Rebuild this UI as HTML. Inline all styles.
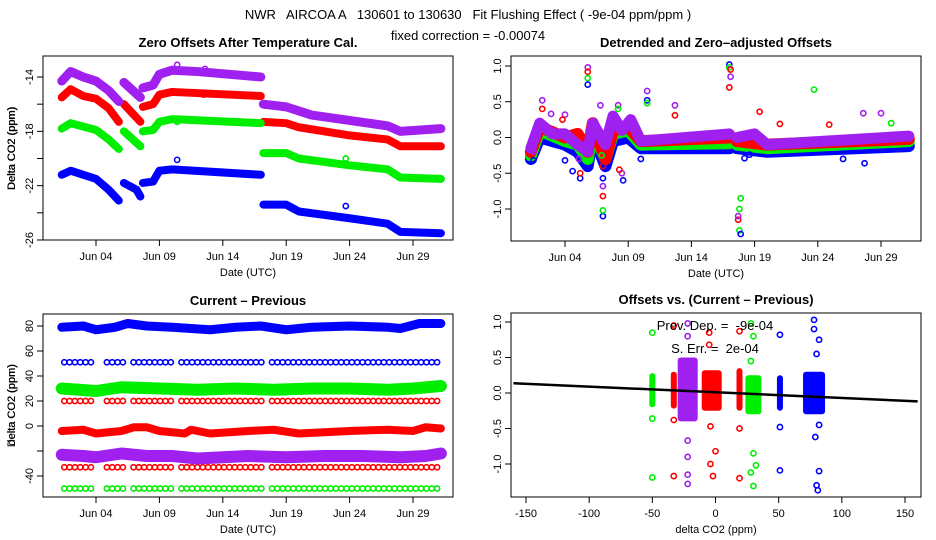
<!DOCTYPE html>
<html><head><meta charset="utf-8"><style>
body{margin:0;background:#fff}
svg{display:block;font-family:"Liberation Sans",sans-serif}
text{white-space:pre}
</style></head><body>
<svg id="c" width="936" height="540" viewBox="0 0 936 540">
<text x="468" y="19" text-anchor="middle" font-size="13" xml:space="preserve">NWR   AIRCOA A   130601 to 130630   Fit Flushing Effect ( -9e-04 ppm/ppm )</text>
<text x="468" y="40" text-anchor="middle" font-size="13">fixed correction = -0.00074</text>
</svg>
<script>
// ---------- data ----------
const colors = ["#a020f0","#ff0000","#00ee00","#0000ff"];
const dateTicks = [4,9,14,19,24,29];
const dateTickLabels = ["Jun 04","Jun 09","Jun 14","Jun 19","Jun 24","Jun 29"];
// Panel 1: zero offsets, segments of [day,value]
const p1Purple = [[[1.3,-14.3],[2,-13.6],[3,-14],[4,-14.3],[5,-15],[5.8,-15.8]],[[6.2,-14.4],[7.5,-15.5]],[[7.7,-14.8],[8.5,-14.6],[9,-13.8],[10,-13.5],[12,-13.6],[17,-14]],[[17.2,-16],[19,-16.2],[21,-16.8],[24,-17.2],[27,-17.6],[28,-18],[31.2,-17.8]]];
const p1Red = [[[1.3,-15.5],[2,-14.9],[3,-15.4],[4,-15.6],[5,-16.3],[5.8,-17.3]],[[6.2,-16],[7.5,-17.3]],[[7.7,-16.2],[8.5,-16],[9,-15.3],[10,-15.1],[17,-15.4]],[[17.2,-17.3],[19,-17.4],[20,-17.7],[24,-18.3],[27,-18.6],[28,-19.1],[31.2,-19.1]]];
const p1Green = [[[1.3,-17.8],[2,-17.4],[4,-17.9],[5,-18.6],[5.8,-19.3]],[[6.2,-18],[7.5,-19.1]],[[7.7,-18],[8.5,-17.9],[9,-17.3],[10,-17.1],[17,-17.4]],[[17.2,-19.6],[19,-19.6],[20,-20],[24,-20.5],[27,-20.8],[28,-21.4],[31.2,-21.5]]];
const p1Blue = [[[1.3,-21.2],[2,-20.9],[3,-21.2],[4,-21.5],[5,-22.3],[5.8,-23.1]],[[6.2,-21.8],[7.2,-22.3],[7.5,-22.8]],[[7.7,-21.8],[8.5,-21.7],[9,-20.9],[10,-20.8],[17,-21.2]],[[17.2,-23.4],[19,-23.4],[20,-23.9],[24,-24.4],[27,-24.8],[28,-25.4],[31.2,-25.5]]];
const p1Outliers = [[10.4,-13.1,0],[12.6,-13.4,0],[10.4,-20.1,3],[23.7,-20,2],[23.7,-23.5,3],[10.4,-17.3,2],[12.5,-15.3,1]];
// Panel 2: detrended, baseline segments and spikes
const p2Purple = [[[1.3,-0.15],[2,0.2],[3,0.05],[4,0.05],[5,-0.1],[5.8,-0.2],[6.2,0.2],[7.2,-0.1],[7.8,0.3],[8.5,0.1],[9.2,0.25],[10,-0.05],[17,0.05]],[[17.6,0],[19,0.05],[20,-0.1],[31.2,0.02]]];
const p2Red = [[[1.3,-0.2],[2,0.15],[4,0],[5,0.05],[5.8,-0.2],[6.2,0.2],[7.2,-0.3],[7.8,0.1],[9,0.15],[10,-0.05],[17,0]],[[17.6,-0.05],[20,-0.1],[31.2,-0.02]]];
const p2Green = [[[1.3,-0.25],[2,0.1],[4,-0.05],[5,-0.1],[5.8,-0.3],[6.2,0.1],[7.2,-0.3],[7.8,0.05],[9,0.1],[10,-0.1],[17,-0.08]],[[17.6,-0.1],[20,-0.15],[31.2,-0.05]]];
const p2Blue = [[[1.3,-0.3],[2,0],[4,-0.1],[5,-0.2],[5.8,-0.4],[6.2,0.05],[7.2,-0.4],[7.8,-0.05],[9,0],[10,-0.15],[17,-0.15]],[[17.6,-0.15],[20,-0.2],[31.2,-0.12]]];
const p2Spikes = [[5.8,0.98,0],[5.8,0.92,1],[5.8,0.83,2],[5.8,0.74,3],[7,-0.82,1],[7,-1.1,3],[7,-0.68,0],[7,-1.02,2],[7,-0.4,1],[7,-0.57,3],[2.2,0.52,0],[2.2,0.4,1],[8.6,-0.6,3],[8.5,-0.5,0],[8.3,-0.45,1],[8.2,0.45,0],[8.2,0.4,2],[10.5,0.65,0],[10.5,0.52,3],[10.5,0.48,2],[10,-0.3,3],[12.7,0.45,0],[12.7,0.31,1],[17,1.02,3],[17,0.98,2],[17.1,0.95,1],[17,0.7,1],[17.1,0.85,0],[17.9,-0.85,2],[17.8,-1.0,2],[17.7,-1.15,1],[17.8,-1.3,2],[17.9,-1.35,3],[17.7,-1.1,0],[23.7,0.67,2],[19.4,0.36,1],[27.6,0.34,0],[29,0.34,0],[27.7,-0.36,3],[5.2,-0.57,3],[4.6,-0.47,3],[5.2,-0.5,1],[5.1,-0.3,0],[2.9,0.33,0],[4,0.32,0],[4,-0.32,3],[3.8,0.25,1],[1.5,-0.32,3],[1.5,-0.2,0],[6.8,0.45,0],[6.9,-0.25,2],[18.2,-0.29,3],[18.6,-0.24,3],[26,-0.3,3],[21,0.19,1],[24.9,0.18,1],[29.8,0.2,2]];
// Panel 3: current - previous
const p3Dense = [[[1.3,79],[3,80],[4,77],[5.5,79],[6.5,82],[8,80],[10,79],[13,77],[15,79],[17,80],[19,77],[21,79],[24,80],[27,79],[28,78],[29.5,82],[31.2,82]],[[1.3,30],[4,28],[6,31],[9,30],[12,29],[15,30],[18,29],[21,30],[24,30],[27,29],[29,30],[31.2,32]],[[1.3,-4],[3,-3],[4,-6],[6,-4],[7,-1],[8,-1],[9,-4],[11,-6],[11.5,-3],[13,-6],[16,-4],[18,-3],[20,-6],[24,-4],[27,-3],[29,-4],[30,-1],[31.2,-2]],[[1.3,-23],[3,-24],[4,-25],[6,-22],[8,-24],[10,-24],[12,-26],[16,-24],[19,-25],[22,-24],[25,-24],[28,-25],[30,-24],[31.2,-22]]];
const p3DenseColor = [3,2,1,0];
const p3DenseWidth = [9,12,8,12];
const p3RowLevels = [51,20,-33,-50];
const p3RowColor = [3,1,1,2];
const p3RowGaps = [[4,4.6],[6.4,6.7],[10.2,10.6],[17.4,17.8]];
// Panel 4: offsets vs current-previous clusters [x, ymin, ymax, colorIdx, widthPx]
const p4Clusters = [[-50,-0.2,0.28,2,6],[-33,-0.22,0.3,1,6],[-22,-0.4,0.5,0,20],[-3,-0.25,0.32,1,20],[19,-0.25,0.35,1,6],[30,-0.3,0.25,2,16],[51,-0.25,0.25,3,6],[78,-0.3,0.3,3,22]];
const p4Outliers = [[-50,0.85,2],[-50,-0.36,2],[-50,-1.19,2],[-33,0.95,1],[-33,-0.38,1],[-33,-1.17,1],[-22,0.98,0],[-22,0.8,0],[-22,-0.67,0],[-22,-1.28,0],[-22,-1.15,0],[-22,-0.9,0],[-5,0.85,1],[-5,0.68,1],[-4,-0.47,1],[-4,-1.0,1],[-2,-1.17,1],[0,-0.82,1],[19,0.87,1],[19,-1.2,1],[19,-0.5,1],[28,0.98,2],[30,0.8,2],[28,0.45,2],[30,-0.85,2],[32,-1.02,2],[28,-1.12,2],[30,-1.31,2],[51,0.82,3],[51,-0.48,3],[51,-1.09,3],[78,1.03,3],[78,0.9,3],[82,0.75,3],[80,0.55,3],[79,-0.62,3],[82,-1.1,3],[80,-1.3,3],[81,-1.37,3],[82,-0.45,3]];
const p4Fit = [-160,160];
const p4Slope = -0.0008;
const p4Intercept = 0.01;

// ---------- drawing ----------
const svg = document.getElementById('c');
const NS = "http://www.w3.org/2000/svg";
function mk(tag, attrs, parent){const e=document.createElementNS(NS,tag);for(const k in attrs)e.setAttribute(k,attrs[k]);(parent||svg).appendChild(e);return e;}
function lin(d0,d1,r0,r1){return v=>r0+(v-d0)*(r1-r0)/(d1-d0);}

function panel(name, box, title, ylab, xlab, xs, ys, yTicks, yLabels, xTicks, xLabels){
  const g = mk('g',{});
  
  
  const r = mk('rect',{x:box[0],y:box[1],width:box[2]-box[0],height:box[3]-box[1],fill:'none',stroke:'#000','stroke-width':1},g);
  
  
  const t = mk('text',{x:(box[0]+box[2])/2,y:box[1]-9,'text-anchor':'middle','font-size':13,'font-weight':'bold'},g);
  t.textContent = title;
  
  
  const yl = mk('text',{x:0,y:0,'text-anchor':'middle','font-size':11,transform:`translate(15,${(box[1]+box[3])/2}) rotate(-90)`},g);
  yl.textContent = ylab;
  
  
  const xl = mk('text',{x:(box[0]+box[2])/2,y:box[3]+36,'text-anchor':'middle','font-size':11},g);
  xl.textContent = xlab;
  
  
  const ya = mk('g',{},g);
  
  
  yTicks.forEach((v,i)=>{const y=ys(v);mk('line',{x1:box[0]-6,x2:box[0],y1:y,y2:y,stroke:'#000'},ya);
    if(yLabels[i]!==''){const tx=mk('text',{x:0,y:0,'text-anchor':'middle','font-size':11,transform:`translate(${box[0]-10},${y}) rotate(-90)`},ya);tx.textContent=yLabels[i];}});
  const xa = mk('g',{},g);
  
  
  xTicks.forEach((v,i)=>{const x=xs(v);mk('line',{x1:x,x2:x,y1:box[3],y2:box[3]+6,stroke:'#000'},xa);
    const tx=mk('text',{x:x,y:box[3]+20,'text-anchor':'middle','font-size':11},xa);tx.textContent=xLabels[i];});
  return g;
}
function band(g, segs, xs, ys, col, w, name){
  segs.forEach(seg=>{
    const p = mk('polyline',{points:seg.map(d=>xs(d[0])+','+ys(d[1])).join(' '),fill:'none',stroke:col,'stroke-width':w,'stroke-linejoin':'round','stroke-linecap':'round'},g);
    
    
  });
}
function pt(g,x,y,col,name){
  const c=mk('circle',{cx:x,cy:y,r:2.6,fill:'none',stroke:col,'stroke-width':1.6},g);
  
  
}

// Panel 1
{
  const box=[43,56,453,240];
  const xs=lin(4,29,96,413), ys=lin(-14,-26,77,240);
  const yT=[-14,-16,-18,-20,-22,-24,-26], yL=['-14','','-18','','-22','','-26'];
  const g=panel('zero-offsets-panel',box,'Zero Offsets After Temperature Cal.','Delta CO2 (ppm)','Date (UTC)',xs,ys,yT,yL,dateTicks,dateTickLabels);
  band(g,p1Red,xs,ys,colors[1],8,'red-offset-series');
  band(g,p1Green,xs,ys,colors[2],8,'green-offset-series');
  band(g,p1Blue,xs,ys,colors[3],8,'blue-offset-series');
  band(g,p1Purple,xs,ys,colors[0],9,'purple-offset-series');
  p1Outliers.forEach(o=>pt(g,xs(o[0]),ys(o[1]),colors[o[2]],'offset-outlier'));
}
// Panel 2
{
  const box=[511,56,921,241];
  const xs=lin(4,29,565,881), ys=lin(1,-1,66,209);
  const g=panel('detrended-panel',box,'Detrended and Zero\u2013adjusted Offsets','Delta CO2 (ppm)','Date (UTC)',xs,ys,[1,0.5,0,-0.5,-1],['1.0','0.5','0.0','-0.5','-1.0'],dateTicks,dateTickLabels);
  band(g,p2Blue,xs,ys,colors[3],12,'blue-detrended-series');
  band(g,p2Green,xs,ys,colors[2],12,'green-detrended-series');
  band(g,p2Red,xs,ys,colors[1],12,'red-detrended-series');
  band(g,p2Purple,xs,ys,colors[0],11,'purple-detrended-series');
  p2Spikes.forEach(o=>pt(g,xs(o[0]),ys(o[1]),colors[o[2]],'detrended-spike'));
}
// Panel 3
{
  const box=[43,314,453,497];
  const xs=lin(4,29,96,413), ys=lin(80,-40,326,476);
  const g=panel('current-previous-panel',box,'Current \u2013 Previous','Delta CO2 (ppm)','Date (UTC)',xs,ys,[80,60,40,20,0,-20,-40],['80','60','40','20','0','','-40'],dateTicks,dateTickLabels);
  p3RowLevels.forEach((lv,i)=>{
    for(let d=1.5; d<=31.2; d+=0.42){
      if(p3RowGaps.some(gp=>d>gp[0]&&d<gp[1]))continue;
      pt(g,xs(d),ys(lv),colors[p3RowColor[i]],'cp-sparse-point');
    }
  });
  p3Dense.forEach((seg,i)=>band(g,[seg],xs,ys,colors[p3DenseColor[i]],p3DenseWidth[i],'cp-dense-series'));
}
// Panel 4
{
  const box=[511,313,921,497];
  const xs=lin(-150,150,526,905), ys=lin(1,-1,322,464);
  const g=panel('offsets-vs-cp-panel',box,'Offsets vs. (Current \u2013 Previous)','delta CO2 (ppm)','delta CO2 (ppm)',xs,ys,[1,0.5,0,-0.5,-1],['1.0','0.5','0.0','-0.5','-1.0'],[-150,-100,-50,0,50,100,150],['-150','-100','-50','0','50','100','150']);
  p4Clusters.forEach(c=>{
    const l=mk('rect',{x:xs(c[0])-c[4]/2,width:c[4],y:ys(c[2]),height:ys(c[1])-ys(c[2]),fill:colors[c[3]],rx:3},g);
    
    
  });
  p4Outliers.forEach(o=>pt(g,xs(o[0]),ys(o[1]),colors[o[2]],'cluster-outlier'));
  const fl=mk('line',{x1:xs(p4Fit[0]),y1:ys(p4Intercept+p4Slope*p4Fit[0]),x2:xs(p4Fit[1]),y2:ys(p4Intercept+p4Slope*p4Fit[1]),stroke:'#000','stroke-width':2.5},g);
  
  
  const t1=mk('text',{x:715,y:330,'text-anchor':'middle','font-size':13},g);t1.textContent='Prev. Dep. =  -9e-04';
  
  
  const t2=mk('text',{x:715,y:353,'text-anchor':'middle','font-size':13},g);t2.textContent='S. Err. =  2e-04';
  
  
}
</script>
</body></html>
